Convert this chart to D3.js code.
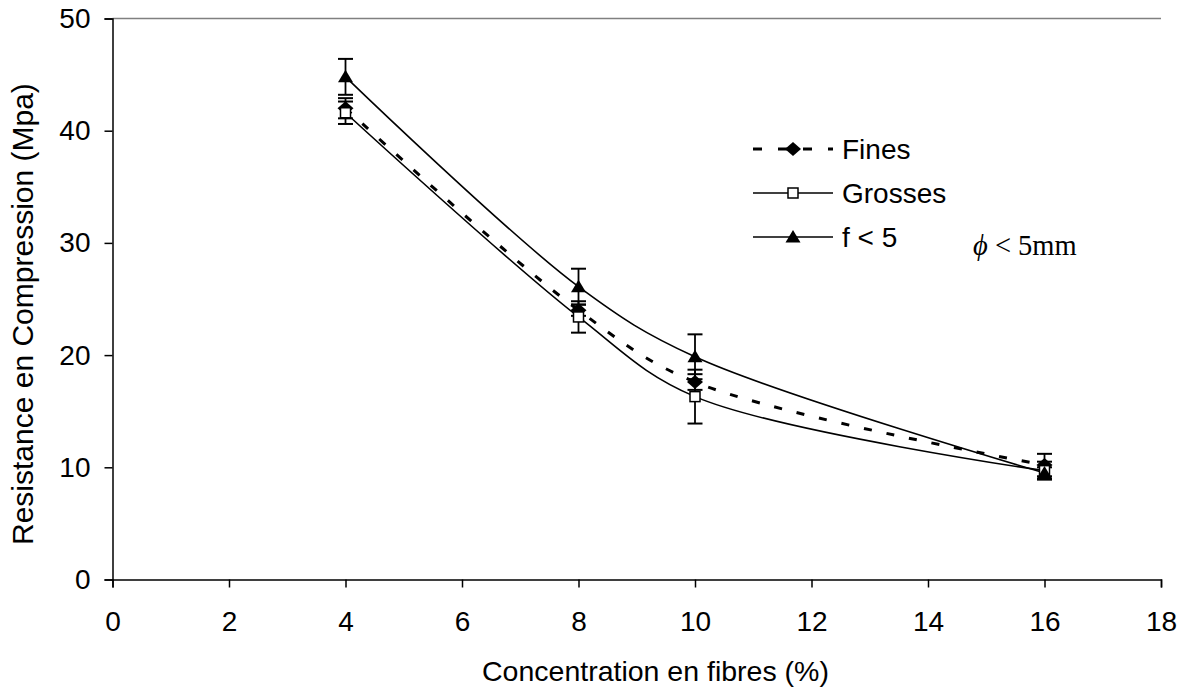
<!DOCTYPE html>
<html><head><meta charset="utf-8">
<script src="https://cdn.jsdelivr.net/npm/d3@7"></script>
<style>
html,body{margin:0;padding:0;background:#fff;}
svg text{fill:#000;}
</style></head>
<body>
<svg id="chart" width="1186" height="688"></svg>
<script>
const xValues = [4, 8, 10, 16];
const finesValues = [42.0, 24.0, 17.6, 10.2];
const finesErrors = [0.9, 0.5, 0.7, 1.0];
const grossesValues = [41.6, 23.4, 16.3, 9.7];
const grossesErrors = [1.0, 1.4, 2.4, 0.8];
const f5Values = [44.8, 26.1, 19.85, 9.5];
const f5Errors = [1.6, 1.6, 2.0, 0.5];
const xTicks = [0, 2, 4, 6, 8, 10, 12, 14, 16, 18];
const yTicks = [0, 10, 20, 30, 40, 50];
const seriesNames = ["Fines", "Grosses", "f < 5"];
const xTitle = "Concentration en fibres (%)";
const yTitle = "Resistance en Compression (Mpa)";

const SANS = "Arial, 'Liberation Sans', sans-serif";
const SERIF = "'Liberation Serif', 'Times New Roman', serif";

const svg = d3.select("#chart");
const x = d3.scaleLinear().domain([0, 18]).range([112.5, 1161]);
const y = d3.scaleLinear().domain([0, 50]).range([579.5, 18.5]);

// top line at 50
svg.append("line").attr("x1", x(0)).attr("x2", x(18)).attr("y1", y(50)).attr("y2", y(50))
  .attr("stroke", "#808080").attr("stroke-width", 1.5);

// axes
const xAxis = svg.append("g").attr("transform", `translate(0,${y(0)})`)
  .call(d3.axisBottom(x).tickValues(xTicks).tickSize(8).tickPadding(24).tickFormat(d3.format("d")));
const yAxis = svg.append("g").attr("transform", `translate(${x(0)},0)`)
  .call(d3.axisLeft(y).tickValues(yTicks).tickSize(8).tickPadding(14).tickFormat(d3.format("d")));
[xAxis, yAxis].forEach(a => {
  a.select(".domain").attr("stroke", "#000").attr("stroke-width", 1.5);
  a.selectAll(".tick line").attr("stroke", "#000").attr("stroke-width", 1.5);
  a.selectAll(".tick text").style("font-size", "28px").style("font-family", SANS).attr("fill", "#000");
});

// axis titles
svg.append("text").attr("x", 482).attr("y", 681).style("font-size", "28.5px").style("font-family", SANS).text(xTitle);
svg.append("text").attr("transform", `translate(33,${545}) rotate(-90)`).style("font-size", "30px").style("font-family", SANS).text(yTitle);

const series = [
  {name: seriesNames[0], vals: finesValues, errs: finesErrors, dash: "8,15", width: 3, marker: "diamond"},
  {name: seriesNames[1], vals: grossesValues, errs: grossesErrors, dash: null, width: 1.6, marker: "square"},
  {name: seriesNames[2], vals: f5Values, errs: f5Errors, dash: null, width: 1.6, marker: "triangle"}
];

const line = d3.line().x(d => x(d[0])).y(d => y(d[1])).curve(d3.curveCatmullRom.alpha(0.5));

function drawMarker(g, type, cx, cy) {
  if (type === "diamond") {
    g.append("path").attr("d", `M${cx},${cy-7}L${cx+8},${cy}L${cx},${cy+7}L${cx-8},${cy}Z`).attr("fill", "#000");
  } else if (type === "square") {
    g.append("rect").attr("x", cx-5).attr("y", cy-5).attr("width", 10).attr("height", 10)
      .attr("fill", "#fff").attr("stroke", "#000").attr("stroke-width", 1.5);
  } else {
    g.append("path").attr("d", `M${cx},${cy-7}L${cx+7.5},${cy+5.5}L${cx-7.5},${cy+5.5}Z`).attr("fill", "#000");
  }
}

// lines
series.forEach(s => {
  const pts = xValues.map((xv, i) => [xv, s.vals[i]]);
  svg.append("path").attr("d", line(pts)).attr("fill", "none").attr("stroke", "#000")
    .attr("stroke-width", s.width).attr("stroke-dasharray", s.dash);
});

// error bars
series.forEach(s => {
  const g = svg.append("g");
  xValues.forEach((xv, i) => {
    const cx = x(xv), top = y(s.vals[i] + s.errs[i]), bot = y(s.vals[i] - s.errs[i]);
    g.append("line").attr("x1", cx).attr("x2", cx).attr("y1", top).attr("y2", bot).attr("stroke", "#000").attr("stroke-width", 1.8);
    [top, bot].forEach(yy => g.append("line").attr("x1", cx-7.5).attr("x2", cx+7.5).attr("y1", yy).attr("y2", yy).attr("stroke", "#000").attr("stroke-width", 2));
  });
});
// markers
series.forEach(s => {
  const g = svg.append("g");
  xValues.forEach((xv, i) => drawMarker(g, s.marker, x(xv), y(s.vals[i])));
});

// legend
const legY = [149, 193, 237];
series.forEach((s, i) => {
  const g = svg.append("g");
  const yy = legY[i];
  g.append("line").attr("x1", 753).attr("x2", 833).attr("y1", yy).attr("y2", yy).attr("stroke", "#000")
    .attr("stroke-width", s.width).attr("stroke-dasharray", s.dash ? "9,16" : null);
  drawMarker(g, s.marker, 793, yy);
  g.append("text").attr("x", 842).attr("y", yy + 10).style("font-size", "28px").style("font-family", SANS).text(s.name);
});

// annotation
const ann = svg.append("text").attr("x", 973).attr("y", 255).style("font-family", SERIF).style("font-size", "28.5px");
ann.append("tspan").style("font-style", "italic").text("\u03D5");
ann.append("tspan").text(" < 5mm");
</script>
</body></html>
